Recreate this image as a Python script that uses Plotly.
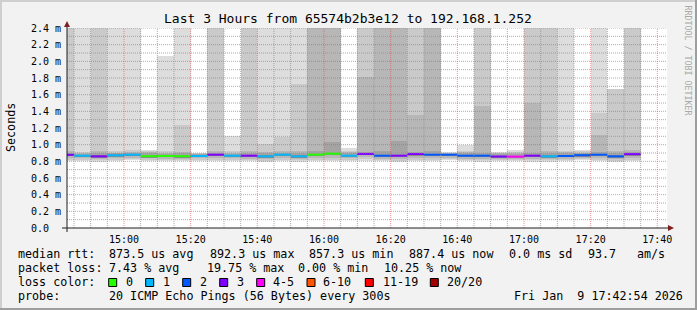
import pandas as pd
import plotly.graph_objects as go

# ---------------- data ----------------
bar_end = pd.date_range("2026-01-09 14:45:00", periods=35, freq="5min")  # end of each 5-min step
step_ms = 300000

median = [0.878, 0.868, 0.860, 0.872, 0.880, 0.862, 0.864, 0.862, 0.864, 0.880,
          0.868, 0.868, 0.860, 0.880, 0.860, 0.880, 0.892, 0.868, 0.889, 0.868,
          0.868, 0.888, 0.880, 0.880, 0.868, 0.868, 0.858, 0.857, 0.868, 0.860,
          0.864, 0.874, 0.880, 0.860, 0.887]

loss = [3, 1, 3, 1, 1, 0, 0, 0, 1, 3,
        1, 3, 1, 1, 1, 0, 0, 1, 3, 2,
        3, 3, 2, 2, 2, 2, 3, 3.95, 3, 1,
        2, 2, 2, 2, 2.05]

# sorted ping values (ms) of each step, smoke edges; values > 2.4 are clipped to the top
p20 = [2.5, 2.5, 2.5, 2.5, 2.5, 0.936, 2.07, 2.5, 0.905, 2.5,
       1.104, 2.5, 2.5, 2.5, 2.5, 2.5, 2.5, 0.964, 2.5, 2.5,
       2.5, 2.5, 2.5, 0.916, 0.996, 2.5, 0.916, 0.936, 2.5, 2.5,
       2.5, 0.936, 2.5, 1.670, 2.5]
p19 = [2.5, 0.912, 2.5, 0.925, 0.940, 0.925, 0.925, 1.236, 0.898, 2.5,
       0.925, 2.5, 1.008, 1.096, 1.728, 2.5, 2.5, 0.930, 2.5, 2.5,
       2.5, 2.5, 2.5, 0.905, 0.925, 2.5, 0.905, 0.915, 2.5, 2.5,
       0.930, 0.920, 1.376, 1.664, 2.5]
p18 = [0.930, 0.900, 0.925, 0.905, 0.915, 0.912, 0.905, 0.910, 0.892, 0.930,
       0.905, 0.925, 0.915, 0.925, 0.930, 2.5, 2.5, 0.912, 1.816, 2.5,
       2.5, 1.356, 2.5, 0.898, 0.910, 1.464, 0.895, 0.905, 1.504, 0.930,
       0.912, 0.905, 1.116, 0.930, 0.935]
p17 = [0.905, 0.890, 0.900, 0.895, 0.900, 0.900, 0.892, 0.895, 0.886, 0.905,
       0.892, 0.900, 0.895, 0.905, 0.900, 0.930, 1.036, 0.898, 0.915, 0.925,
       1.048, 0.915, 0.930, 0.893, 0.898, 0.905, 0.885, 0.893, 0.905, 0.900,
       0.898, 0.895, 0.910, 0.900, 0.915]
p15 = [0.890, 0.880, 0.872, 0.884, 0.892, 0.874, 0.876, 0.874, 0.876, 0.892,
       0.880, 0.880, 0.872, 0.892, 0.872, 0.892, 0.904, 0.880, 0.901, 0.880,
       0.880, 0.900, 0.892, 0.890, 0.880, 0.880, 0.870, 0.869, 0.880, 0.872,
       0.876, 0.886, 0.892, 0.872, 0.899]
p06 = [0.860, 0.852, 0.845, 0.855, 0.862, 0.846, 0.848, 0.846, 0.848, 0.862,
       0.850, 0.852, 0.844, 0.862, 0.845, 0.864, 0.874, 0.852, 0.872, 0.850,
       0.850, 0.870, 0.862, 0.864, 0.852, 0.850, 0.842, 0.842, 0.850, 0.844,
       0.848, 0.858, 0.864, 0.843, 0.870]
p04 = [0.838, 0.835, 0.830, 0.838, 0.845, 0.835, 0.832, 0.830, 0.836, 0.840,
       0.835, 0.834, 0.828, 0.840, 0.830, 0.842, 0.845, 0.836, 0.848, 0.832,
       0.825, 0.845, 0.838, 0.845, 0.834, 0.832, 0.828, 0.830, 0.832, 0.830,
       0.832, 0.842, 0.840, 0.826, 0.845]
p02 = [0.818, 0.815, 0.812, 0.818, 0.828, 0.820, 0.815, 0.812, 0.818, 0.815,
       0.818, 0.815, 0.810, 0.818, 0.812, 0.820, 0.815, 0.822, 0.825, 0.815,
       0.805, 0.820, 0.818, 0.828, 0.815, 0.812, 0.812, 0.815, 0.812, 0.812,
       0.815, 0.826, 0.815, 0.808, 0.822]
p01 = [0.805, 0.802, 0.798, 0.805, 0.815, 0.808, 0.802, 0.800, 0.805, 0.800,
       0.805, 0.800, 0.796, 0.804, 0.798, 0.805, 0.800, 0.810, 0.808, 0.800,
       0.788, 0.805, 0.804, 0.815, 0.802, 0.798, 0.800, 0.802, 0.798, 0.798,
       0.800, 0.812, 0.800, 0.795, 0.808]

loss_labels = ["0", "1", "2", "3", "4-5", "6-10", "11-19", "20/20"]
loss_limits = [0, 1, 2, 3, 5, 10, 19, 20]
loss_colors = ["#26ff00", "#00b8ff", "#0059ff", "#7e00ff", "#ff00ff", "#ff5500", "#ff0000", "#a10000"]

y_ticks = [0.0, 0.2, 0.4, 0.6, 0.8, 1.0, 1.2, 1.4, 1.6, 1.8, 2.0, 2.2, 2.4]
y_ticktext = ["0.0\u00a0\u00a0", "0.2 m", "0.4 m", "0.6 m", "0.8 m", "1.0 m", "1.2 m",
              "1.4 m", "1.6 m", "1.8 m", "2.0 m", "2.2 m", "2.4 m"]
y_minor = [0.1, 0.3, 0.5, 0.7, 0.9, 1.1, 1.3, 1.5, 1.7, 1.9, 2.1, 2.3]
x_major = pd.date_range("2026-01-09 15:00", "2026-01-09 17:40", freq="20min")
x_minor = pd.date_range("2026-01-09 14:45", "2026-01-09 17:40", freq="5min")
x_range = ["2026-01-09 14:42:54", "2026-01-09 17:42:54"]

# ---------------- layout helpers ----------------
W, H = 697, 310
L, T, PW, PH = 67, 28, 600, 200
MONO = "DejaVu Sans Mono"


def px(x):
    return (x - L) / PW


def py(y):
    return (T + PH - y) / PH


bar_mid = bar_end - pd.Timedelta(milliseconds=step_ms / 2)
bar_start = bar_end - pd.Timedelta(milliseconds=step_ms)

fig = go.Figure()

bands = [(p01, p20, "#dddddd"), (p02, p19, "#cacaca"), (p04, p18, "#b7b7b7"),
         (p06, p17, "#a4a4a4"), (p06, p15, "#8a8a8a")]
for lo, hi, col in bands:
    fig.add_trace(go.Bar(x=bar_mid, y=[h - l for h, l in zip(hi, lo)], base=lo,
                         width=step_ms, marker=dict(color=col, line=dict(width=0)),
                         showlegend=False, hoverinfo="skip"))


def loss_class(v):
    for i, lim in enumerate(loss_limits):
        if v <= lim:
            return i
    return len(loss_limits) - 1


for ci, col in enumerate(loss_colors):
    xs, ys = [], []
    for i in range(len(median)):
        if loss_class(loss[i]) == ci:
            xs += [bar_start[i], bar_end[i], None]
            ys += [median[i], median[i], None]
    if xs:
        fig.add_trace(go.Scatter(x=xs, y=ys, mode="lines", line=dict(color=col, width=2),
                                 showlegend=False, hoverinfo="skip"))

shapes = []
GRID = "rgba(143,143,143,0.75)"
MGRID = "rgba(222,79,79,0.6)"
for y in y_minor:
    shapes.append(dict(type="line", xref="paper", yref="y", x0=0, x1=1, y0=y, y1=y,
                       line=dict(color=GRID, width=1, dash="1px,1px"), layer="above"))
for y in y_ticks[1:]:
    shapes.append(dict(type="line", xref="paper", yref="y", x0=0, x1=1, y0=y, y1=y,
                       line=dict(color=MGRID, width=1, dash="1px,1px"), layer="above"))
major_set = set(x_major)
for t in x_minor:
    col = MGRID if t in major_set else GRID
    shapes.append(dict(type="line", xref="x", yref="paper", x0=t, x1=t, y0=0, y1=1,
                       line=dict(color=col, width=1, dash="1px,1px"), layer="above"))

# axes + arrows
AX = "#1f1f1f"
ARROW = "#801f1f"
shapes.append(dict(type="line", xref="paper", yref="paper", x0=px(62), x1=px(668),
                   y0=py(228), y1=py(228), line=dict(color=AX, width=1), layer="above"))
shapes.append(dict(type="line", xref="paper", yref="paper", x0=px(67), x1=px(67),
                   y0=py(232), y1=py(26), line=dict(color=AX, width=1), layer="above"))


def path(points):
    return "M " + " L ".join(f"{px(a):.5f},{py(b):.5f}" for a, b in points) + " Z"


shapes.append(dict(type="path", xref="paper", yref="paper",
                   path=path([(64, 27), (70, 27), (67, 21)]),
                   fillcolor=ARROW, line=dict(color=ARROW, width=0), layer="above"))
shapes.append(dict(type="path", xref="paper", yref="paper",
                   path=path([(668, 225), (668, 231), (674, 228)]),
                   fillcolor=ARROW, line=dict(color=ARROW, width=0), layer="above"))

# frame
for (x0, y0, x1, y1, c) in [(0, 0, W, 2, "#cfcfcf"), (0, 0, 2, H, "#cfcfcf"),
                             (0, H - 2, W, H, "#9e9e9e"), (W - 2, 0, W, H, "#9e9e9e")]:
    shapes.append(dict(type="rect", xref="paper", yref="paper", x0=px(x0), x1=px(x1),
                       y0=py(y1), y1=py(y0), fillcolor=c, line=dict(width=0), layer="above"))

# loss colour swatches
swatch_x = [108.7, 145.7, 182.7, 219.7, 256.7, 307, 365.3, 430.3]
label_x = [124, 161, 198, 235, 270.7, 321, 380.7, 445.3]
for sx, col in zip(swatch_x, loss_colors):
    shapes.append(dict(type="rect", xref="paper", yref="paper", x0=px(sx), x1=px(sx + 8),
                       y0=py(286.5), y1=py(278.5), fillcolor=col,
                       line=dict(color="#000000", width=1), layer="above"))

ann = []


def text(s, x, y, size=11.7, anchor="left", color="#000000", angle=0):
    ann.append(dict(text=s.replace(" ", "\u00a0"), x=px(x), y=py(y), xref="paper", yref="paper",
                    xanchor=anchor, yanchor="middle", showarrow=False, textangle=angle,
                    font=dict(family=MONO, size=size, color=color)))


text("Last 3 Hours from 65574b2b3e12 to 192.168.1.252", 348, 18.5, size=13, anchor="center")
text("Seconds", 10.5, 127.5, angle=-90, anchor="center")
text("RRDTOOL / TOBI OETIKER", 687.5, 60, size=8.3, anchor="center", color="#a8a8a8", angle=90)

r1 = 254
for s, x in [("median rtt:", 16), ("873.5 us avg", 107.3), ("892.3 us max", 207.5),
             ("857.3 us min", 307), ("887.4 us now", 407), ("0.0 ms sd", 506.6),
             ("93.7", 585.5), ("am/s", 634.6)]:
    text(s, x, r1)
r2 = 268
for s, x in [("packet loss:", 16), ("7.43 % avg", 107.3), ("19.75 % max", 205),
             ("0.00 % min", 296), ("10.25 % now", 382)]:
    text(s, x, r2)
r3 = 282
text("loss color:", 16, r3)
for s, x in zip(loss_labels, label_x):
    text(s, x, r3)
r4 = 296
text("probe:", 16, r4)
text("20 ICMP Echo Pings (56 Bytes) every 300s", 107.3, r4)
text("Fri Jan  9 17:42:54 2026", 512, r4)

fig.update_layout(
    width=W, height=H, autosize=False,
    margin=dict(l=L, r=W - L - PW, t=T, b=H - T - PH, pad=0),
    paper_bgcolor="#f2f2f2", plot_bgcolor="#ffffff",
    barmode="overlay", bargap=0, showlegend=False,
    shapes=shapes, annotations=ann,
    xaxis=dict(type="date", range=x_range, showgrid=False, zeroline=False, showline=False,
               tickvals=list(x_major), ticktext=[t.strftime("%H:%M") for t in x_major],
               ticks="", tickfont=dict(family=MONO, size=10, color="#000000"),
               ticklabelstandoff=4),
    yaxis=dict(range=[0, 2.4], showgrid=False, zeroline=False, showline=False,
               tickvals=y_ticks, ticktext=y_ticktext, ticks="",
               tickfont=dict(family=MONO, size=10, color="#000000"),
               ticklabelstandoff=5),
)

fig.write_html("out.html")
